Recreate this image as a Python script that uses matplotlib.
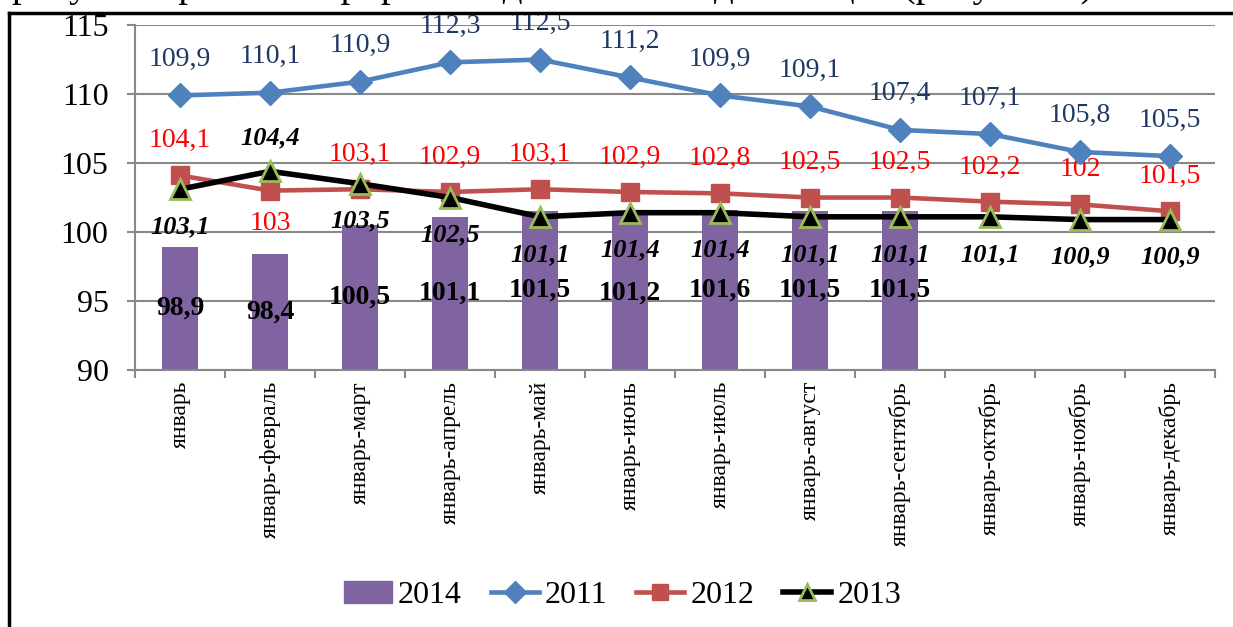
import numpy as np
import matplotlib
matplotlib.use("Agg")
import matplotlib.pyplot as plt
from matplotlib.lines import Line2D

plt.rcParams['font.family'] = ['Liberation Serif', 'DejaVu Serif']

months = ["январь", "январь-февраль", "январь-март", "январь-апрель", "январь-май",
          "январь-июнь", "январь-июль", "январь-август", "январь-сентябрь",
          "январь-октябрь", "январь-ноябрь", "январь-декабрь"]
y2011 = [109.9, 110.1, 110.9, 112.3, 112.5, 111.2, 109.9, 109.1, 107.4, 107.1, 105.8, 105.5]
y2012 = [104.1, 103.0, 103.1, 102.9, 103.1, 102.9, 102.8, 102.5, 102.5, 102.2, 102.0, 101.5]
y2013 = [103.1, 104.4, 103.5, 102.5, 101.1, 101.4, 101.4, 101.1, 101.1, 101.1, 100.9, 100.9]
y2014 = [98.9, 98.4, 100.5, 101.1, 101.5, 101.2, 101.6, 101.5, 101.5]
yticks = [90, 95, 100, 105, 110, 115]


def fmt(v):
    s = "{:g}".format(v)
    return s.replace(".", ",")


fig = plt.figure(figsize=(12.33, 6.27), dpi=100)
ax = fig.add_axes([0.1095, 0.41, 0.876, 0.55])

x = np.arange(len(months))
base = 90
ax.bar(x[:len(y2014)], np.array(y2014) - base, bottom=base, width=0.4,
       color="#8064A2", zorder=2)
ax.plot(x, y2011, color="#4F81BD", lw=3.3, marker="D", ms=12, zorder=4)
ax.plot(x, y2012, color="#C0504D", lw=3.3, marker="s", ms=13, zorder=4)
ax.plot(x, y2013, color="black", lw=4, marker="^", ms=14,
        markerfacecolor="black", markeredgecolor="#9BBB59", markeredgewidth=2, zorder=5)

# data labels
for i, v in enumerate(y2011):
    ax.annotate(fmt(v), (i, v), xytext=(0, 26), textcoords="offset points",
                ha="center", va="center", fontsize=20, color="#1F3864")
for i, v in enumerate(y2012):
    dy = -24 if i == 1 else 25
    ax.annotate(fmt(v), (i, v), xytext=(0, dy), textcoords="offset points",
                ha="center", va="center", fontsize=20, color="red")
for i, v in enumerate(y2013):
    dy = 24 if i == 1 else -27
    ax.annotate(fmt(v), (i, v), xytext=(0, dy), textcoords="offset points",
                ha="center", va="center", fontsize=19, color="black",
                fontweight="bold", style="italic")
for i, v in enumerate(y2014):
    ax.text(i, (v + base) / 2, fmt(v), ha="center", va="center",
            fontsize=20, fontweight="bold", color="black", zorder=6)

ax.set_ylim(90, 115)
ax.set_yticks(yticks)
ax.set_yticklabels([str(t) for t in yticks], fontfamily="Liberation Serif")
ax.set_xlim(-0.5, len(months) - 0.5)
ax.set_xticks(x)
ax.set_xticklabels(months, rotation=90, fontsize=17)
ax.set_xticks(np.arange(-0.5, len(months)), minor=True)
ax.tick_params(axis="x", which="major", length=0, pad=8)
ax.tick_params(axis="x", which="minor", length=6, width=1.5, color="#888888")
ax.tick_params(axis="y", labelsize=23, length=6, width=1.5, color="#888888", pad=13)
ax.grid(axis="y", color="#888888", lw=1.5, zorder=0)
ax.set_axisbelow(True)
for side in ["top", "right"]:
    ax.spines[side].set_visible(False)
for side in ["left", "bottom"]:
    ax.spines[side].set_color("#888888")
    ax.spines[side].set_linewidth(1.5)

handles = [
    plt.Rectangle((0, 0), 1, 1, color="#8064A2"),
    Line2D([], [], color="#4F81BD", lw=3.3, marker="D", ms=11),
    Line2D([], [], color="#C0504D", lw=3.3, marker="s", ms=12),
    Line2D([], [], color="black", lw=4, marker="^", ms=12,
           markerfacecolor="black", markeredgecolor="#9BBB59", markeredgewidth=2),
]
fig.legend(handles, ["2014", "2011", "2012", "2013"], loc="center",
           bbox_to_anchor=(0.505, 0.05), ncol=4, frameon=False, fontsize=23,
           handlelength=1.5, handletextpad=0.2, columnspacing=0.9)

# frame of the chart object and cut text of the page above
fig.add_artist(Line2D([0.007, 1.0], [0.979, 0.979], color="black", lw=2.5))
fig.add_artist(Line2D([0.007, 0.007], [0.0, 0.979], color="black", lw=2.5))
fig.text(0.01, 1.022, "рисунок проиллюстрирована динамика индексов цен (рисунок 3).",
         fontsize=28, va="center", ha="left")

fig.savefig("out.png", dpi=100)
